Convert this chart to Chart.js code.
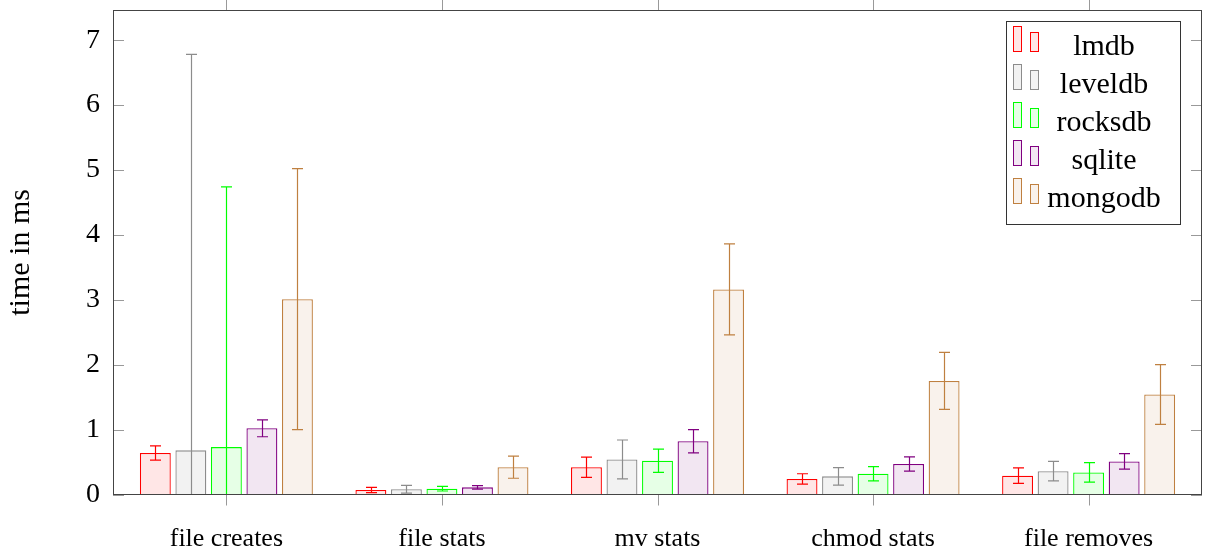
<!DOCTYPE html>
<html>
<head>
<meta charset="utf-8">
<script src="https://cdn.jsdelivr.net/npm/chart.js@4"></script>
<style>
  html, body { margin: 0; padding: 0; background: #fff; }
  #wrap { width: 1205px; height: 553px; }
</style>
</head>
<body>
<div id="wrap"><canvas id="chart" width="1205" height="553"></canvas></div>
<script>
// benchmark data (ms)
const categories = ['file creates', 'file stats', 'mv stats', 'chmod stats', 'file removes'];
const seriesNames = ['lmdb', 'leveldb', 'rocksdb', 'sqlite', 'mongodb'];

const lmdb    = [0.64, 0.07, 0.42, 0.24, 0.29];
const leveldb = [0.68, 0.08, 0.54, 0.28, 0.36];
const rocksdb = [0.73, 0.09, 0.52, 0.32, 0.34];
const sqlite  = [1.02, 0.11, 0.82, 0.47, 0.51];
const mongodb = [3.01, 0.42, 3.16, 1.75, 1.54];

// symmetric error (+/-)
const lmdbErr    = [0.11, 0.04, 0.155, 0.08, 0.12];
const leveldbErr = [6.10, 0.06, 0.30, 0.135, 0.15];
const rocksdbErr = [4.01, 0.036, 0.18, 0.11, 0.15];
const sqliteErr  = [0.13, 0.028, 0.18, 0.11, 0.12];
const mongodbErr = [2.01, 0.17, 0.70, 0.44, 0.46];

const yTicks = [0, 1, 2, 3, 4, 5, 6, 7];

const FONT = "'Liberation Serif', 'DejaVu Serif', serif";
const strokes = ['#ff0000', '#8c8c8c', '#00ff00', '#800080', '#bf8040'];
const fills   = ['#ffe6e6', '#f2f2f2', '#e6ffe6', '#f2e6f2', '#f9f2ec'];
const values  = [lmdb, leveldb, rocksdb, sqlite, mongodb];
const errors  = [lmdbErr, leveldbErr, rocksdbErr, sqliteErr, mongodbErr];

// frame / tick positions (pgfplots style box)
const FRAME = { left: 113, right: 1202 };

function noPad(scale) {
  scale.paddingTop = 0;
  scale.paddingBottom = 0;
  scale.paddingLeft = 0;
  scale.paddingRight = 0;
}

const errorBars = {
  id: 'errorBars',
  afterDatasetsDraw(chart) {
    const { ctx, chartArea, scales } = chart;
    const y = scales.y;
    ctx.save();
    ctx.beginPath();
    ctx.rect(FRAME.left, chartArea.top, FRAME.right - FRAME.left, chartArea.bottom - chartArea.top);
    ctx.clip();
    chart.data.datasets.forEach((ds, di) => {
      const meta = chart.getDatasetMeta(di);
      ctx.strokeStyle = ds.borderColor;
      ctx.lineWidth = 1.2;
      meta.data.forEach((bar, i) => {
        const v = ds.data[i], e = ds.errors[i];
        const yHi = y.getPixelForValue(v + e);
        const yLo = y.getPixelForValue(v - e);
        const x = Math.round(bar.x) + 0.5;
        ctx.beginPath();
        ctx.moveTo(x, yHi);
        ctx.lineTo(x, yLo);
        ctx.moveTo(x - 5.5, yHi);
        ctx.lineTo(x + 5.5, yHi);
        ctx.moveTo(x - 5.5, yLo);
        ctx.lineTo(x + 5.5, yLo);
        ctx.stroke();
      });
    });
    ctx.restore();
  }
};

const frameAndTicks = {
  id: 'frameAndTicks',
  afterDraw(chart) {
    const { ctx, chartArea, scales } = chart;
    const top = chartArea.top, bottom = chartArea.bottom;
    ctx.save();
    ctx.strokeStyle = '#999999';
    ctx.lineWidth = 1;
    yTicks.forEach(t => {
      const py = Math.round(scales.y.getPixelForValue(t)) + 0.5;
      ctx.beginPath();
      ctx.moveTo(FRAME.left, py); ctx.lineTo(FRAME.left + 11, py);
      ctx.moveTo(FRAME.right - 11, py); ctx.lineTo(FRAME.right, py);
      ctx.stroke();
    });
    categories.forEach((c, i) => {
      const px = Math.round(scales.x.getPixelForValue(i)) + 0.5;
      ctx.beginPath();
      ctx.moveTo(px, 0); ctx.lineTo(px, top);
      ctx.moveTo(px, bottom); ctx.lineTo(px, bottom + 11);
      ctx.stroke();
    });
    ctx.strokeStyle = '#444444';
    ctx.strokeRect(FRAME.left + 0.5, Math.round(top) + 0.5, FRAME.right - FRAME.left - 1, Math.round(bottom - top));

    // legend box
    const lx = 1006, ly = 21, lw = 174, lh = 203;
    ctx.fillStyle = '#ffffff';
    ctx.fillRect(lx, ly, lw, lh);
    ctx.strokeStyle = '#333333';
    ctx.strokeRect(lx + 0.5, ly + 0.5, lw, lh);
    ctx.font = '30px ' + FONT;
    ctx.textAlign = 'center';
    ctx.textBaseline = 'alphabetic';
    chart.data.datasets.forEach((ds, i) => {
      const base = 55 + i * 38;
      ctx.fillStyle = ds.backgroundColor;
      ctx.strokeStyle = ds.borderColor;
      ctx.lineWidth = 1;
      ctx.fillRect(1013, base - 29, 9, 26);
      ctx.strokeRect(1013.5, base - 28.5, 8, 25);
      ctx.fillRect(1030, base - 23, 9, 20);
      ctx.strokeRect(1030.5, base - 22.5, 8, 19);
      ctx.fillStyle = '#000';
      ctx.fillText(ds.label, 1104, base);
    });
    ctx.restore();
  }
};

const datasets = seriesNames.map((name, i) => ({
  label: name,
  data: values[i],
  errors: errors[i],
  backgroundColor: fills[i],
  borderColor: strokes[i],
  borderWidth: 1.3,
  categoryPercentage: 0.824,
  barPercentage: 0.87
}));

new Chart(document.getElementById('chart'), {
  type: 'bar',
  data: { labels: categories, datasets },
  options: {
    responsive: false,
    animation: false,
    layout: { padding: { top: 10.3, right: 8.6, left: 0, bottom: 0 } },
    plugins: {
      legend: { display: false },
      tooltip: { enabled: false }
    },
    scales: {
      x: {
        offset: true,
        grid: { display: false, drawTicks: false },
        border: { display: false },
        ticks: { color: '#000', font: { family: FONT, size: 26 }, padding: 29 },
        afterFit(scale) { scale.height = 58.5; noPad(scale); }
      },
      y: {
        min: 0,
        max: 7.46,
        grid: { display: false, drawTicks: false },
        border: { display: false },
        afterBuildTicks(scale) { scale.ticks = yTicks.map(v => ({ value: v })); },
        ticks: { color: '#000', font: { family: FONT, size: 28 }, padding: 18.6 },
        title: {
          display: true,
          text: 'time in ms',
          color: '#000',
          font: { family: FONT, size: 30 },
          padding: { top: 3, bottom: 0 }
        },
        afterFit(scale) { scale.width = 118.6; noPad(scale); }
      }
    }
  },
  plugins: [errorBars, frameAndTicks]
});
</script>
</body>
</html>
